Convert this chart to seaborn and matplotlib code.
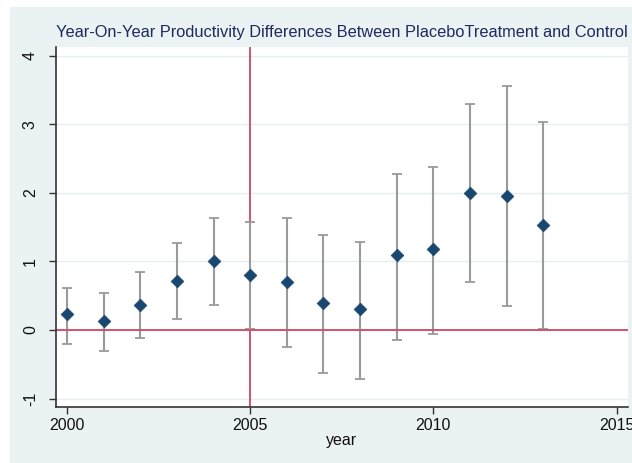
import matplotlib
matplotlib.use("Agg")
import matplotlib.pyplot as plt
from matplotlib.patches import Rectangle
import seaborn as sns
import pandas as pd

# Year-on-year estimates with confidence bounds
years = [2000, 2001, 2002, 2003, 2004, 2005, 2006, 2007, 2008, 2009, 2010, 2011, 2012, 2013]
estimate = [0.23, 0.13, 0.36, 0.71, 1.01, 0.81, 0.70, 0.40, 0.30, 1.09, 1.18, 2.00, 1.96, 1.53]
ci_low = [-0.21, -0.31, -0.12, 0.16, 0.37, 0.01, -0.25, -0.63, -0.72, -0.15, -0.06, 0.70, 0.35, 0.02]
ci_high = [0.62, 0.54, 0.84, 1.27, 1.63, 1.57, 1.63, 1.39, 1.29, 2.27, 2.38, 3.30, 3.56, 3.03]
x_ticks = [2000, 2005, 2010, 2015]
y_ticks = [-1, 0, 1, 2, 3, 4]

df = pd.DataFrame({"year": years, "est": estimate, "lo": ci_low, "hi": ci_high})

sns.set_theme(style="white")
plt.rcParams["font.family"] = ["Liberation Sans", "DejaVu Sans"]

W, H = 632, 463
fig = plt.figure(figsize=(W / 100, H / 100), dpi=100, facecolor="white")
bg = "#EAF2F3"
fig.patches.append(Rectangle((10 / W, 0), 1 - 10 / W, 1 - 7 / H,
                             transform=fig.transFigure, facecolor=bg,
                             edgecolor="none", zorder=-10))

ax = fig.add_axes([56 / W, 1 - 407 / H, (628 - 56) / W, (407 - 47) / H])
ax.set_zorder(5)
ax.set_facecolor("white")

# light horizontal grid
for yv in y_ticks:
    ax.axhline(yv, color="#E6EEF0", lw=1.0, zorder=0)

# reference lines
red = "#D2536F"
ax.axvline(2005, color=red, lw=1.4, zorder=1)

# confidence intervals
ax.errorbar(df["year"], df["est"],
            yerr=[df["est"] - df["lo"], df["hi"] - df["est"]],
            fmt="none", ecolor="#9A9A9A", elinewidth=1.5, capsize=3.8,
            capthick=1.3, zorder=2)

ax.axhline(0, color=red, lw=1.4, zorder=2.5)

sns.scatterplot(data=df, x="year", y="est", marker="D", s=42,
                color="#1A476F", edgecolor="#1A476F", linewidth=0.5,
                ax=ax, zorder=3)

ax.set_xlim(1999.70, 2015.31)
ax.set_ylim(-1.124, 4.131)
ax.set_xticks(x_ticks)
ax.set_yticks(y_ticks)
ax.set_xticklabels([str(t) for t in x_ticks], fontsize=11.5, color="#111111")
ax.set_yticklabels([str(t) for t in y_ticks], fontsize=11.5, color="#111111",
                   rotation=90, va="center")
ax.tick_params(axis="both", direction="out", length=5, width=1.0,
               color="#333333", left=True, bottom=True)
ax.tick_params(axis="x", pad=3)
ax.tick_params(axis="y", pad=8)

for side in ["top", "right"]:
    ax.spines[side].set_visible(False)
for side in ["left", "bottom"]:
    ax.spines[side].set_color("#333333")
    ax.spines[side].set_linewidth(1.2)

ax.set_xlabel("year", fontsize=11.5, color="#111111", labelpad=0)
ax.set_ylabel("")

fig.text(0.5 * (57 + 626) / W, 1 - 33 / H,
         "Year-On-Year Productivity Differences Between PlaceboTreatment and Control",
         ha="center", va="center", fontsize=11.75, color="#1E2B5C")

fig.savefig("out.png", dpi=100, facecolor="white")
